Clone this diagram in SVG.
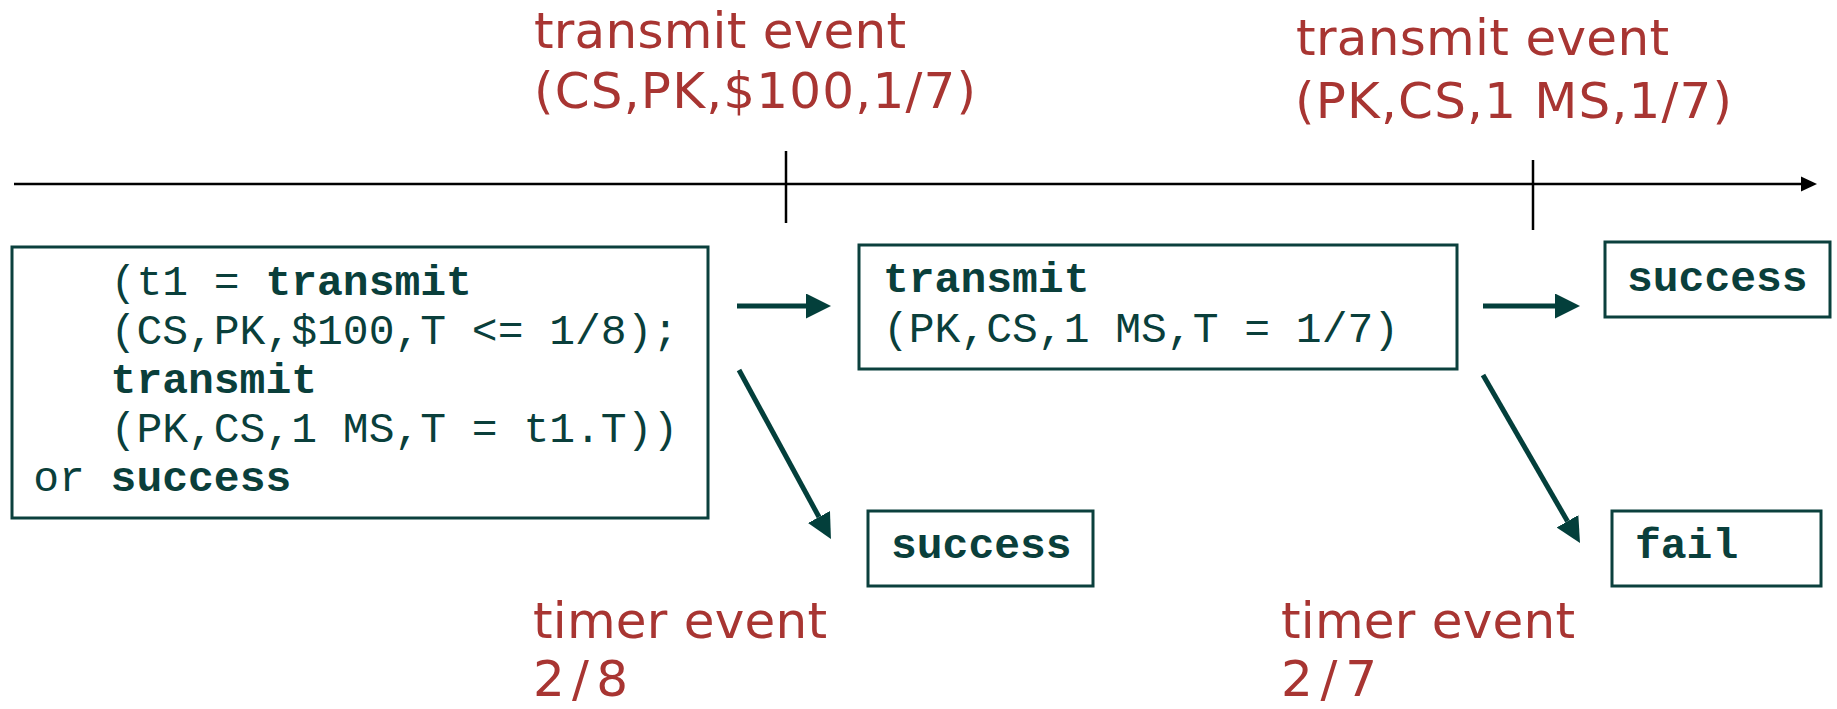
<svg xmlns="http://www.w3.org/2000/svg" width="1837" height="709" viewBox="0 0 1837 709">
<style>
.box{fill:#ffffff;stroke:#0b403d;stroke-width:3}
.code{font-family:"Liberation Mono","Courier New",monospace;font-size:43px;fill:#0a3f3b}
.b{font-weight:bold}
.ev{font-family:"DejaVu Sans","Lucida Grande",sans-serif;font-size:50px;fill:#a83532}
.conn{stroke:#033f3b;stroke-width:5;fill:none;marker-end:url(#ah)}
</style>
<defs>
<marker id="ah" viewBox="0 0 10 10" refX="0" refY="5" markerWidth="5" markerHeight="5" orient="auto">
<path d="M0,0 L10,5 L0,10 z" fill="#033f3b"/>
</marker>
</defs>
<rect width="1837" height="709" fill="#ffffff"/>
<g id="timeline">
<line x1="14" y1="184" x2="1802" y2="184" stroke="#000" stroke-width="2.5"/>
<polygon points="1801,176.5 1817,184 1801,191.5" fill="#000"/>
<line x1="786" y1="151" x2="786" y2="223" stroke="#000" stroke-width="2.5"/>
<line x1="1533" y1="160" x2="1533" y2="230" stroke="#000" stroke-width="2.5"/>
</g>
<g id="label-transmit1">
<text class="ev" x="534" y="48" textLength="372" lengthAdjust="spacing">transmit event</text>
<text class="ev" x="534" y="108" textLength="442" lengthAdjust="spacing">(CS,PK,$100,1/7)</text>
</g>
<g id="label-transmit2">
<text class="ev" x="1296" y="55" textLength="373" lengthAdjust="spacing">transmit event</text>
<text class="ev" x="1295" y="118" textLength="437" lengthAdjust="spacing">(PK,CS,1 MS,1/7)</text>
</g>
<g id="label-timer1">
<text class="ev" x="533" y="638" textLength="294" lengthAdjust="spacing">timer event</text>
<text class="ev" x="533" y="696" textLength="95" lengthAdjust="spacing">2/8</text>
</g>
<g id="label-timer2">
<text class="ev" x="1281" y="638" textLength="294" lengthAdjust="spacing">timer event</text>
<text class="ev" x="1281" y="696" textLength="96" lengthAdjust="spacing">2/7</text>
</g>
<g id="node-start">
<rect class="box" x="12" y="247" width="696" height="271"/>
<text class="code" x="110.6" y="295">(t1 = <tspan class="b">transmit</tspan></text>
<text class="code" x="110.6" y="344">(CS,PK,$100,T &lt;= 1/8);</text>
<text class="code b" x="110.6" y="393">transmit</text>
<text class="code" x="110.6" y="442">(PK,CS,1 MS,T = t1.T))</text>
<text class="code" x="33.2" y="491">or <tspan class="b">success</tspan></text>
</g>
<g id="node-transmit">
<rect class="box" x="859" y="245" width="598" height="124"/>
<text class="code b" x="883" y="292">transmit</text>
<text class="code" x="883" y="342">(PK,CS,1 MS,T = 1/7)</text>
</g>
<g id="node-success1">
<rect class="box" x="868" y="511" width="225" height="75"/>
<text class="code b" x="891" y="558">success</text>
</g>
<g id="node-success2">
<rect class="box" x="1605" y="242" width="225" height="75"/>
<text class="code b" x="1627" y="291">success</text>
</g>
<g id="node-fail">
<rect class="box" x="1612" y="511" width="209" height="75"/>
<text class="code b" x="1635" y="558">fail</text>
</g>
<g id="connectors">
<line class="conn" x1="737" y1="306" x2="806" y2="306"/>
<line class="conn" x1="739" y1="370" x2="819" y2="517"/>
<line class="conn" x1="1483" y1="306" x2="1555" y2="306"/>
<line class="conn" x1="1483" y1="375" x2="1567.5" y2="521.3"/>
</g>
</svg>
